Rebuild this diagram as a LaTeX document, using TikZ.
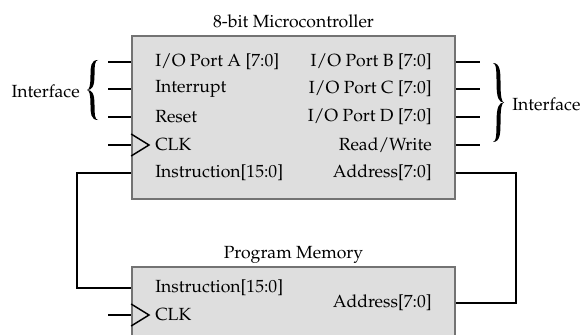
\documentclass[tikz,border=0pt]{standalone}
\usepackage[T1]{fontenc}
\usepackage{mathpazo}
% Filled curly brace, arms at x=0, tip at x=-11, half height #1
\newcommand\bracefill[1]{%
  \fill (0,-#1) .. controls (-7.5,-#1) and (-7.5,{-0.75*#1}) .. (-7.5,{-0.5*#1})
    .. controls (-7.5,{-0.12*#1}) and (-9,0) .. (-11,0)
    .. controls (-9,0) and (-7.5,{0.12*#1}) .. (-7.5,{0.5*#1})
    .. controls (-7.5,{0.75*#1}) and (-7.5,#1) .. (0,#1)
    .. controls (-3.5,#1) and (-3.5,{0.75*#1}) .. (-3.5,{0.5*#1})
    .. controls (-3.5,{0.1*#1}) and (-6,0) .. (-11,0)
    .. controls (-6,0) and (-3.5,{-0.1*#1}) .. (-3.5,{-0.5*#1})
    .. controls (-3.5,{-0.75*#1}) and (-3.5,-#1) .. (0,-#1) -- cycle;}
\begin{document}
\begin{tikzpicture}[x=0.75pt,y=-0.75pt,
  block/.style={draw=black!55, line width=1.3pt, fill=black!13, inner sep=0pt},
  wire/.style={line width=1.1pt, black},
  lbl/.style={inner sep=0pt, font=\fontsize{13.2}{15}\selectfont}]
\clip (0,0) rectangle (581,335);

% Microcontroller block (132..455 x 36..199)
\node[block, minimum width=242.25pt, minimum height=122.25pt] (mcu) at (293.5,117.5) {};
\node[lbl] (mcutitle) at (293.5,21) {8-bit Microcontroller};

% Program memory block, running past the lower edge
\node[block, minimum width=242.25pt, minimum height=58.5pt] (pm) at (293.5,306) {};
\node[lbl] (pmtitle) at (293.5,255) {Program Memory};

% Left-hand ports
\node[lbl, anchor=west] (pa)  at (155,62)  {I/O Port A [7:0]};
\node[lbl, anchor=west] (irq) at (155,89)  {Interrupt};
\node[lbl, anchor=west] (rst) at (155,117) {Reset};
\node[lbl, anchor=west] (clk) at (155,145) {CLK};
\node[lbl, anchor=west] (ins) at (155,173) {Instruction[15:0]};

% Right-hand ports
\node[lbl, anchor=east] (pb)  at (432,62)  {I/O Port B [7:0]};
\node[lbl, anchor=east] (pc)  at (432,89)  {I/O Port C [7:0]};
\node[lbl, anchor=east] (pd)  at (432,117) {I/O Port D [7:0]};
\node[lbl, anchor=east] (rw)  at (432,145) {Read/Write};
\node[lbl, anchor=east] (adr) at (432,173) {Address[7:0]};

% Program memory ports
\node[lbl, anchor=west] (pmins) at (155,288) {Instruction[15:0]};
\node[lbl, anchor=west] (pmclk) at (155,315) {CLK};
\node[lbl, anchor=east] (pmadr) at (432,303) {Address[7:0]};

% Pin stubs on the microcontroller
\foreach \y/\n in {62/a,89/b,117/c,145/d}{
  \coordinate (lp\n) at (108,\y);
  \coordinate (le\n) at (mcu.west |- 0,\y);
  \draw[wire] (lp\n) -- (le\n);
  \coordinate (rp\n) at (480,\y);
  \coordinate (re\n) at (mcu.east |- 0,\y);
  \draw[wire] (re\n) -- (rp\n);
}

% Clock triangles
\draw[wire] (mcu.west |- 0,134) -- (149,145) -- (mcu.west |- 0,156);
\coordinate (pmclkin) at (108,315);
\draw[wire] (pmclkin) -- (pm.west |- 0,315);
\draw[wire] (pm.west |- 0,304) -- (149,315) -- (pm.west |- 0,326);

% Instruction bus
\coordinate (insl) at (77,173);
\draw[wire] (mcu.west |- 0,173) -- (insl) -- (insl |- 0,288) -- (pm.west |- 0,288);

% Address bus
\coordinate (adrr) at (516,173);
\draw[wire] (mcu.east |- 0,173) -- (adrr) -- (adrr |- 0,303) -- (pm.east |- 0,303);

% Interface braces
\begin{scope}[shift={(98,90)}]
  \bracefill{30}
\end{scope}
\node[lbl, anchor=east] (lif) at (80,91) {Interface};
\begin{scope}[shift={(493,102.5)}, xscale=-1]
  \bracefill{39.5}
\end{scope}
\node[lbl, anchor=west] (rif) at (512,104) {Interface};
\end{tikzpicture}
\end{document}
